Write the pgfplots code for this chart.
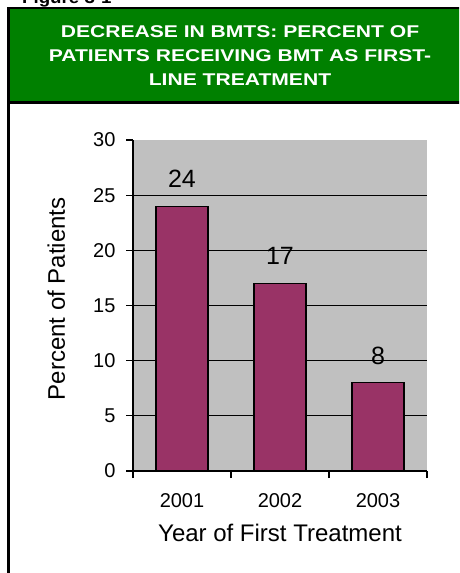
\documentclass[border=0pt]{standalone}
\usepackage{fontspec}
\setmainfont{Liberation Sans}
\usepackage{pgfplots}
\pgfplotsset{compat=1.18}
\definecolor{hdrgreen}{RGB}{0,128,0}
\definecolor{plotgray}{RGB}{192,192,192}
\definecolor{barplum}{RGB}{153,51,102}
\newcommand{\hdr}[1]{\scalebox{1.24}[1]{#1}}
\begin{document}
\begin{tikzpicture}[x=1pt,y=1pt]
\useasboundingbox (0,0) rectangle (459,-573);
\clip (0,0) rectangle (459,-573);
% top caption (cut off)
\node[anchor=base west, inner sep=0pt, font=\bfseries\fontsize{17}{20}\selectfont] at (22,-3.5) {\scalebox{1.1}[1]{Figure 3-1}};
% header
\fill[hdrgreen] (9,-9) rectangle (460,-101);
\draw[line width=2pt] (8,-8) -- (460,-8);
\draw[line width=3pt] (8,-102.7) -- (460,-102.7);
\draw[line width=2.6pt] (8.7,-7) -- (8.7,-574);
\node[anchor=base, inner sep=0pt, text=white, font=\bfseries\fontsize{17}{20}\selectfont] at (240,-37.3) {\hdr{DECREASE IN BMTS: PERCENT OF}};
\node[anchor=base, inner sep=0pt, text=white, font=\bfseries\fontsize{17}{20}\selectfont] at (240,-61) {\hdr{PATIENTS RECEIVING BMT AS FIRST-}};
\node[anchor=base, inner sep=0pt, text=white, font=\bfseries\fontsize{17}{20}\selectfont] at (240,-85.5) {\hdr{LINE TREATMENT}};
\begin{axis}[
  at={(133pt,-471pt)}, anchor=south west,
  scale only axis, width=294pt, height=331pt,
  xmin=-0.5, xmax=2.5, ymin=0, ymax=30,
  axis x line=bottom, axis y line=left,
  axis line style={-, line width=1.6pt, black},
  axis background/.style={fill=plotgray},
  /pgf/number format/assume math mode=true,
  tick align=outside,
  major tick length=7pt,
  every tick/.style={black, line width=1.3pt},
  ytick={0,5,...,30},
  xtick={-0.5,0.5,1.5,2.5},
  xticklabels={},
  extra x ticks={0,1,2},
  extra x tick labels={2001,2002,2003},
  extra x tick style={major tick length=0pt},
  extra y ticks={5,10,15,20,25},
  extra y tick labels={},
  extra y tick style={grid=major, major grid style={black, line width=0.8pt}},
  yticklabel style={font=\fontsize{20}{23}\selectfont, xshift=-7pt},
  xticklabel style={font=\fontsize{20}{23}\selectfont, yshift=-19pt},
  xlabel={Year of First Treatment},
  ylabel={Percent of Patients},
  xlabel style={font=\fontsize{24}{28}\selectfont, at={(axis description cs:0.5,-0.2136)}, anchor=base},
  ylabel style={font=\fontsize{24}{28}\selectfont, at={(axis description cs:-0.2313,0.52)}, anchor=base},
  clip=false,
]
\addplot[ybar, bar width=52pt, fill=barplum, draw=black, line width=1.3pt,
  nodes near coords,
  every node near coord/.append style={font=\fontsize{25}{28}\selectfont, anchor=base, yshift=18.5pt, text=black}]
  coordinates {(0,24) (1,17) (2,8)};
\end{axis}
\end{tikzpicture}
\end{document}
